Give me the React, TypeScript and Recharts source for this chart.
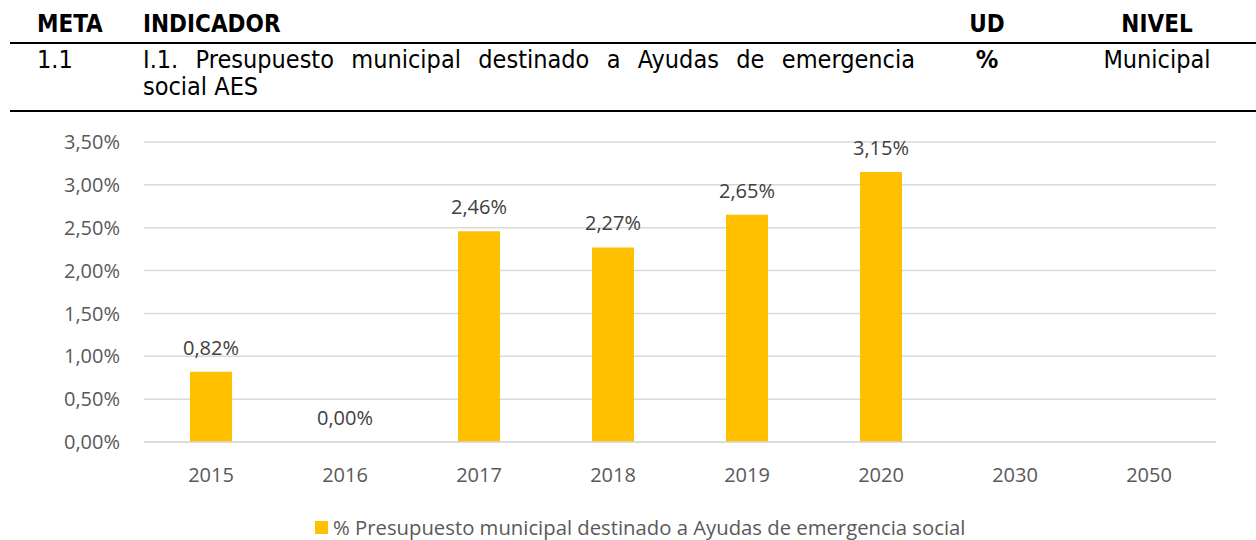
import React from 'react'
import { ComposedChart, Bar, Line, XAxis, YAxis, CartesianGrid, Legend, LabelList } from 'recharts'

const years = ['2015', '2016', '2017', '2018', '2019', '2020', '2030', '2050']
const budgetShare: (number | null)[] = [0.82, 0, 2.46, 2.27, 2.65, 3.15, null, null]
const yTicks = [0, 0.5, 1, 1.5, 2, 2.5, 3, 3.5]

const seriesName = '% Presupuesto municipal destinado a Ayudas de emergencia social'

const data = years.map((year, i) => ({ year, value: budgetShare[i] }))

const pct = (v: number | null | undefined) =>
  v === null || v === undefined ? '' : v.toFixed(2).replace('.', ',') + '%'

const headFont = "'DejaVu Sans Condensed', 'DejaVu Sans', sans-serif"
const chartFont = "'Open Sans', 'Noto Sans', sans-serif"

const cell = (left: number, top: number, extra: React.CSSProperties = {}): React.CSSProperties => ({
  position: 'absolute',
  left,
  top,
  fontFamily: headFont,
  fontSize: 25,
  lineHeight: '27px',
  color: '#000',
  whiteSpace: 'nowrap',
  ...extra,
})

export default function App() {
  return (
    <div style={{ position: 'absolute', left: 0, top: 0, width: 1256, height: 540, background: '#fff', overflow: 'hidden' }}>
      {/* header table */}
      <div style={cell(37, 11, { fontWeight: 'bold', fontSize: 24 })}>META</div>
      <div style={cell(143, 11, { fontWeight: 'bold', fontSize: 24 })}>INDICADOR</div>
      <div style={cell(947, 11, { fontWeight: 'bold', fontSize: 24, width: 80, textAlign: 'center' })}>UD</div>
      <div style={cell(1097, 11, { fontWeight: 'bold', fontSize: 24, width: 120, textAlign: 'center' })}>NIVEL</div>
      <div style={{ position: 'absolute', left: 10, top: 42, width: 1246, height: 2, background: '#000' }} />

      <div style={cell(37, 46)}>1.1</div>
      <div style={cell(143, 46, { width: 772, textAlign: 'justify', textAlignLast: 'justify' })}>
        I.1. Presupuesto municipal destinado a Ayudas de emergencia
      </div>
      <div style={cell(143, 73)}>social AES</div>
      <div style={cell(947, 46, { fontWeight: 'bold', width: 80, textAlign: 'center' })}>%</div>
      <div style={cell(1097, 46, { width: 120, textAlign: 'center' })}>Municipal</div>
      <div style={{ position: 'absolute', left: 10, top: 110, width: 1246, height: 2, background: '#000' }} />

      <div style={{ position: 'absolute', left: 0, top: 112 }}>
        <ComposedChart
          width={1256}
          height={428}
          data={data}
          margin={{ top: 30, right: 40, left: 0, bottom: 0 }}
          style={{ fontFamily: chartFont }}
        >
          <CartesianGrid vertical={false} stroke="#d9d9d9" strokeWidth={1.5} />
          <XAxis
            dataKey="year"
            height={60}
            axisLine={{ stroke: '#d9d9d9', strokeWidth: 1.5 }}
            tickLine={false}
            tickSize={0}
            tickMargin={26}
            tick={{ fontSize: 20, fill: '#595959' }}
          />
          <YAxis
            width={144}
            domain={[0, 3.5]}
            ticks={yTicks}
            tickFormatter={pct}
            axisLine={false}
            tickLine={false}
            tickSize={0}
            tickMargin={24}
            tick={{ fontSize: 20, fill: '#595959' }}
            interval={0}
          />
          <Legend
            verticalAlign="bottom"
            wrapperStyle={{ left: 0, width: 1256 }}
            content={() => (
              <div style={{ height: 38, position: 'relative', fontFamily: chartFont }}>
                <div style={{ position: 'absolute', left: 315, top: 19, width: 13, height: 13, background: '#FFC000' }} />
                <div style={{ position: 'absolute', left: 333, top: 11, fontSize: 20.3, lineHeight: '28px', color: '#595959', whiteSpace: 'nowrap' }}>
                  {seriesName}
                </div>
              </div>
            )}
          />
          <Bar dataKey="value" name={seriesName} fill="#FFC000" barSize={42} isAnimationActive={false} />
          {/* invisible series that carries the value labels, so the 0,00% label shows too */}
          <Line
            dataKey="value"
            stroke="none"
            dot={false}
            activeDot={false}
            legendType="none"
            isAnimationActive={false}
          >
            <LabelList
              dataKey="value"
              position="top"
              offset={17}
              formatter={(v: any) => pct(v)}
              style={{ fontSize: 20, fill: '#404040', fontFamily: chartFont }}
            />
          </Line>
        </ComposedChart>
      </div>
    </div>
  )
}
